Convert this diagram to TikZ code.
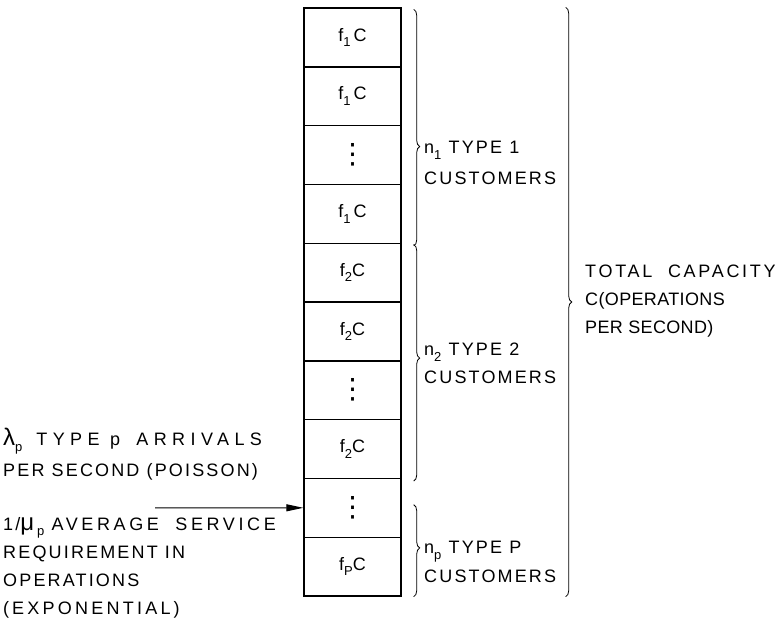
\documentclass[tikz,border=0pt]{standalone}
\usepackage{fontspec}
\newfontfamily\lettering{Liberation Sans}[LetterSpace=12]
\newfontfamily\symfont{DejaVu Sans}
\usetikzlibrary{arrows.meta,decorations.pathreplacing,positioning}
\newcommand{\subidx}[1]{\raisebox{-0.6ex}{\fontsize{13}{13}\selectfont #1}}
\newcommand{\bigsym}[1]{{\fontsize{24}{24}\selectfont #1}}
\newcommand{\dotcol}{{\symfont\fontsize{28}{28}\selectfont ⋮}}
\newcommand{\spaced}[2]{{\addfontfeature{LetterSpace=#1}#2}}

\begin{document}
\begin{tikzpicture}[x=1pt,y=-1pt,
    cell/.style={draw, line width=1.4pt, minimum width=97pt, minimum height=58.8pt,
      inner sep=0pt, font=\lettering\fontsize{18}{20}\selectfont},
    lbl/.style={align=left, inner sep=0pt, anchor=north west,
      font=\lettering\fontsize{18}{#1}\selectfont},
    bracket/.style={decorate, decoration={brace, amplitude=6pt, aspect=#1}, line width=0.8pt},
    bracket/.default=0.5]
  \useasboundingbox (0,0) rectangle (783,619);
  \def\cellh{58.8}
  % column of server slots
  \foreach \txt [count=\i] in {{f\subidx{1}\,C},{f\subidx{1}\,C},{\dotcol},{f\subidx{1}\,C},
      {f\subidx{2}C},{f\subidx{2}C},{\dotcol},{f\subidx{2}C},{\dotcol},{f\subidx{P}C}} {
    \node[cell] (cell\i) at (352.5, 8+\cellh*\i-\cellh/2) {\txt};
  }
  % braces for the customer classes
  \draw[bracket=0.58] ([xshift=12pt,yshift=-2pt]cell1.north east) -- ([xshift=12pt,yshift=-2pt]cell4.south east);
  \draw[bracket=0.48] ([xshift=12pt,yshift=-2pt]cell5.north east) -- ([xshift=12pt,yshift=-2pt]cell8.south east);
  \draw[bracket=0.47] ([xshift=12pt,yshift=-27pt]cell9.north east) -- ([xshift=12pt]cell10.south east);
  \draw[bracket=0.5] ([xshift=164pt]cell1.north east) -- ([xshift=164pt]cell10.south east);
  \node[lbl=31] (type1) at (424,141) {n\subidx{1} TYPE 1\\CUSTOMERS};
  \node[lbl=28] (type2) at (424,343) {n\subidx{2} TYPE 2\\CUSTOMERS};
  \node[lbl=29] (typep) at (424,541) {n\subidx{p} TYPE P\\CUSTOMERS};
  \node[lbl=28] (total) at (585,265) {\spaced{15}{TOTAL \hspace{8pt}CAPACITY}\\
    \spaced{2}{C(OPERATIONS}\\\spaced{2}{PER SECOND)}};
  % arrivals
  \node[lbl=31] (arrivals) at (3,428) {\bigsym{λ}\subidx{p}\hspace{14pt}\spaced{30}{TYPE p \hspace{6pt}ARRIVALS}\\
    PER SECOND (POISSON)};
  \node[lbl=28] (service) at (3,517) {1/\bigsym{μ}\,\subidx{p} \spaced{20}{AVERAGE \hspace{8pt}SERVICE}\\
    REQUIREMENT IN\\OPERATIONS\\\spaced{18}{(\,EXPONENTIAL\,)}};
  \coordinate (arrtail) at (155, 507.8);
  \draw[-{Triangle[length=17pt,width=7pt]}, line width=1pt] (arrtail) -- (cell9.west);
\end{tikzpicture}
\end{document}
